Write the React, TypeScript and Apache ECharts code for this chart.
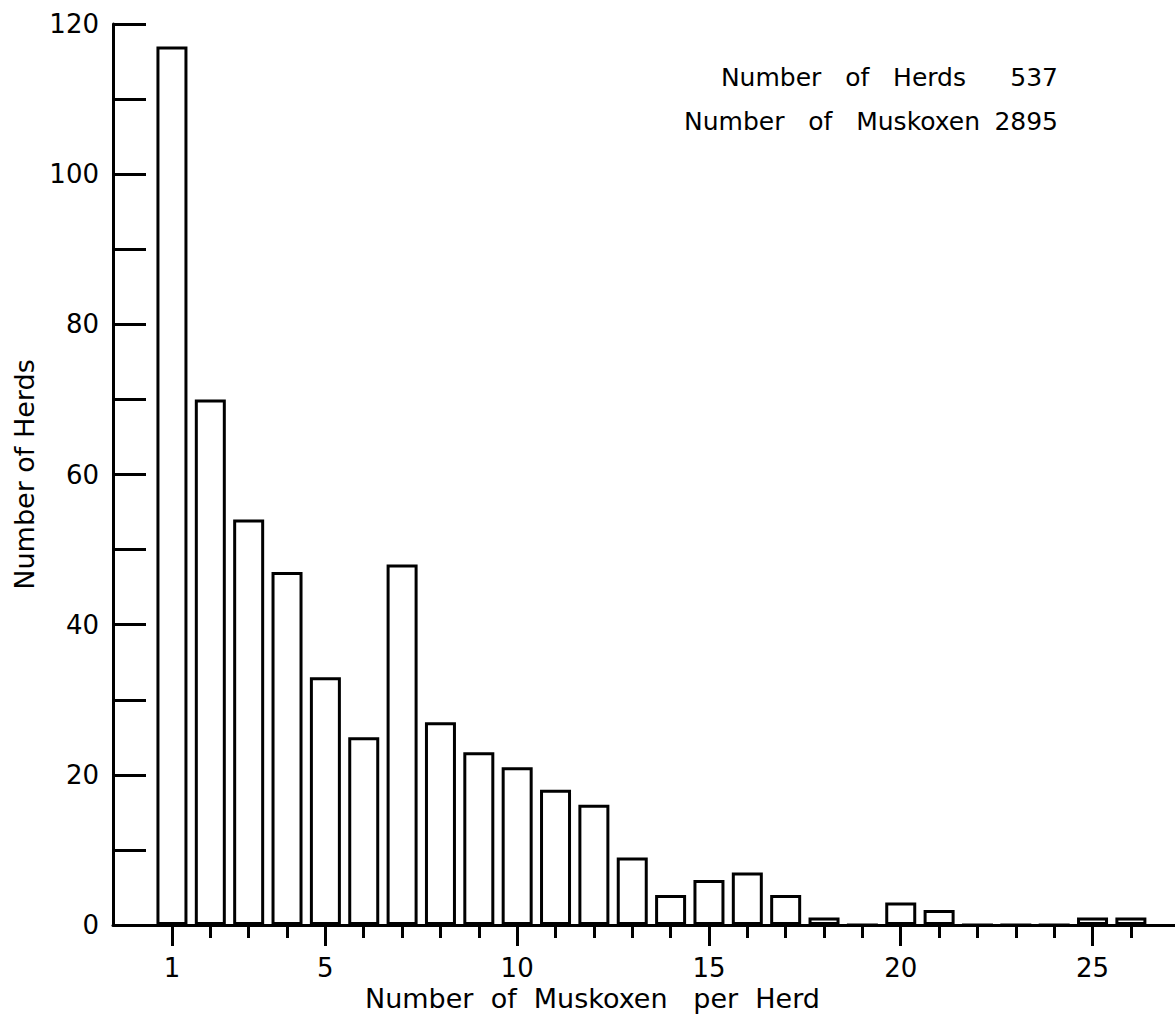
import React, { useEffect, useRef } from "react";
import * as echarts from "echarts";

const herdSizes: number[] = [1, 2, 3, 4, 5, 6, 7, 8, 9, 10, 11, 12, 13, 14, 15, 16, 17, 18, 19, 20, 21, 22, 23, 24, 25, 26];
const herdCounts: number[] = [117, 70, 54, 47, 33, 25, 48, 27, 23, 21, 18, 16, 9, 4, 6, 7, 4, 1, 0, 3, 2, 0, 0, 0, 1, 1];
const labeledTicks: number[] = [1, 5, 10, 15, 20, 25];
const minorTicks: number[] = herdSizes.filter((v) => !labeledTicks.includes(v));
const summaryLabels: string[] = ["Number   of   Herds", "Number   of   Muskoxen"];
const summaryValues: string[] = ["537", "2895"];

const FONT = "DejaVu Sans";

export default function App() {
  const ref = useRef<HTMLDivElement>(null);
  useEffect(() => {
    if (!ref.current) return;
    const chart = echarts.init(ref.current, undefined, { renderer: "svg" });
    const xMin = -0.537;
    const xMax = 27.15;
    const option: any = {
      animation: false,
      backgroundColor: "#ffffff",
      grid: { left: 113, right: 0, top: 24, bottom: 102, containLabel: false, outerBoundsMode: "none" },
      xAxis: [
        {
          type: "value",
          min: xMin,
          max: xMax,
          position: "bottom",
          axisLine: { show: true, onZero: false, lineStyle: { color: "#000", width: 3 } },
          axisTick: { show: true, customValues: labeledTicks, length: 21, lineStyle: { color: "#000", width: 3 } },
          axisLabel: { show: true, customValues: labeledTicks, fontSize: 26, fontFamily: FONT, color: "#000", margin: 30 },
          splitLine: { show: false },
        },
        {
          type: "value",
          min: xMin,
          max: xMax,
          position: "bottom",
          axisLine: { show: false, onZero: false },
          axisTick: { show: true, customValues: minorTicks, length: 13, lineStyle: { color: "#000", width: 3 } },
          axisLabel: { show: false },
          splitLine: { show: false },
        },
      ],
      yAxis: {
        type: "value",
        min: 0,
        max: 120,
        interval: 10,
        name: "Number of Herds",
        nameLocation: "middle",
        nameGap: 70,
        nameTextStyle: { fontSize: 27, fontFamily: FONT, color: "#000" },
        axisLine: { show: true, onZero: false, lineStyle: { color: "#000", width: 3 } },
        axisTick: { show: true, inside: true, length: 33, lineStyle: { color: "#000", width: 3 } },
        axisLabel: {
          fontSize: 26,
          fontFamily: FONT,
          color: "#000",
          margin: 14,
          formatter: (v: number) => (v % 20 === 0 ? String(v) : ""),
        },
        splitLine: { show: false },
      },
      series: [
        {
          type: "bar",
          xAxisIndex: 0,
          barWidth: 31,
          data: herdSizes.map((s, i) => [s, herdCounts[i]]),
          itemStyle: { color: "#fff", borderColor: "#000", borderWidth: 3 },
        },
      ],
      graphic: [
        {
          type: "text",
          left: 365,
          top: 985,
          style: { text: "Number  of  Muskoxen   per  Herd", fontSize: 27, fontFamily: FONT, fill: "#000" },
        },
        {
          type: "text",
          x: 966,
          y: 77,
          style: { text: summaryLabels[0], fontSize: 25, fontFamily: FONT, fill: "#000", align: "right", verticalAlign: "middle" },
        },
        {
          type: "text",
          x: 1058,
          y: 77,
          style: { text: summaryValues[0], fontSize: 25, fontFamily: FONT, fill: "#000", align: "right", verticalAlign: "middle" },
        },
        {
          type: "text",
          x: 980,
          y: 121,
          style: { text: summaryLabels[1], fontSize: 25, fontFamily: FONT, fill: "#000", align: "right", verticalAlign: "middle" },
        },
        {
          type: "text",
          x: 1058,
          y: 121,
          style: { text: summaryValues[1], fontSize: 25, fontFamily: FONT, fill: "#000", align: "right", verticalAlign: "middle" },
        },
      ],
    };
    chart.setOption(option);
    return () => chart.dispose();
  }, []);
  return (
    <div
      ref={ref}
      style={{ position: "fixed", left: 0, top: 0, width: 1175, height: 1027, background: "#fff" }}
    />
  );
}
